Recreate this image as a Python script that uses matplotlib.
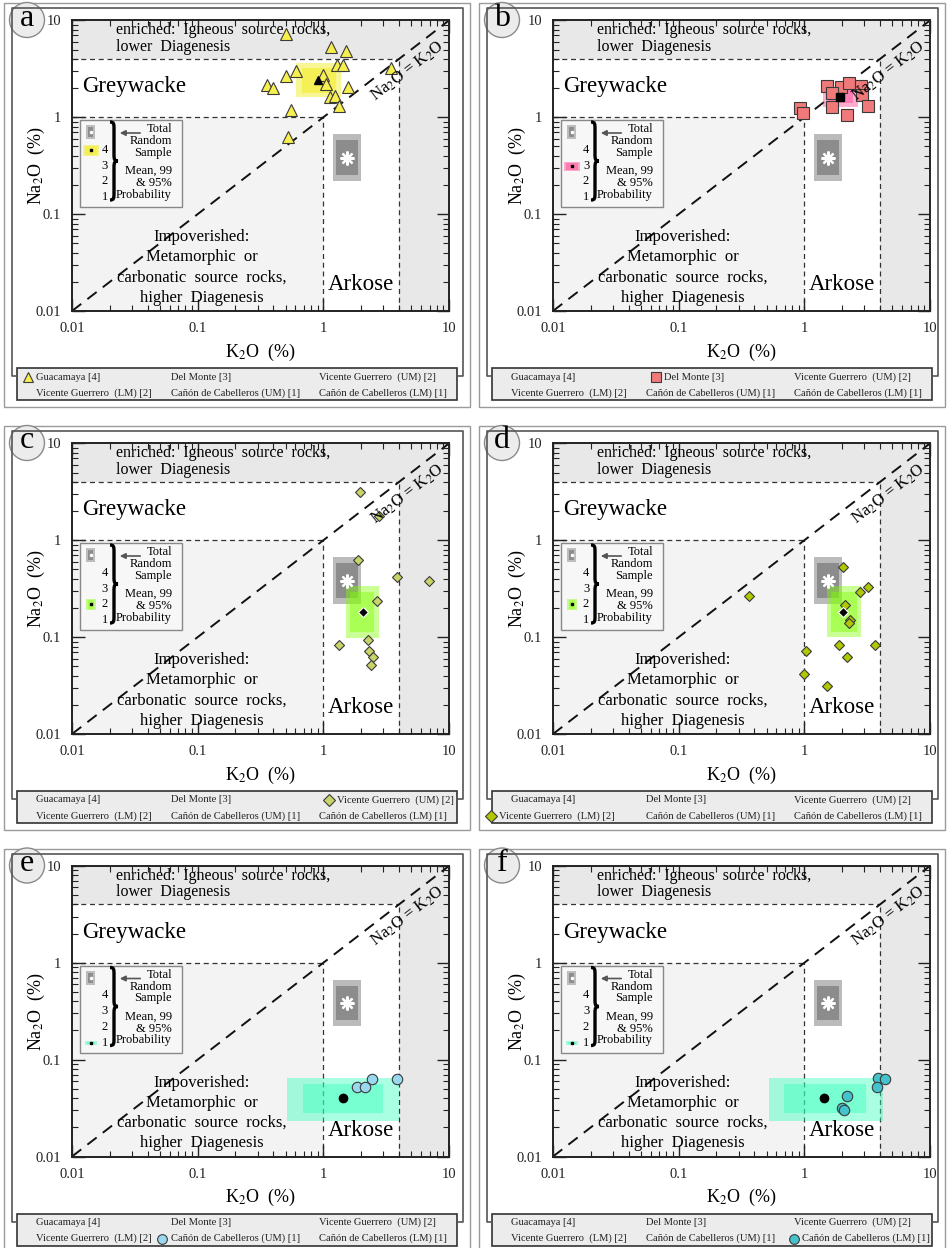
import matplotlib
matplotlib.use("Agg")
import matplotlib.pyplot as plt
from matplotlib.patches import Rectangle, Circle, PathPatch
from matplotlib.path import Path
from matplotlib.ticker import NullFormatter

plt.rcParams["font.family"] = ["Liberation Serif", "DejaVu Serif"]
plt.rcParams["mathtext.fontset"] = "stix"

W, H = 951, 1248

# ---- data: K2O (%) and Na2O (%) per formation ----
gua_k = [0.50, 1.15, 1.51, 1.29, 1.43, 3.44, 0.61, 0.50, 1.00, 1.05, 0.355, 0.40,
         1.58, 1.13, 1.24, 1.33, 0.55, 0.52]
gua_na = [7.2, 5.35, 4.87, 3.47, 3.47, 3.25, 3.03, 2.67, 2.73, 2.21, 2.15, 1.99,
          2.07, 1.63, 1.66, 1.31, 1.19, 0.62]
gua_mean = (0.91, 2.43)
gua_box99 = (0.61, 1.38, 1.61, 3.60)
gua_box95 = (0.68, 1.25, 1.79, 3.25)

dm_k = [0.92, 0.97, 1.51, 1.96, 2.28, 2.83, 2.90, 3.23, 2.17, 1.65, 1.65]
dm_na = [1.26, 1.11, 2.10, 2.07, 2.24, 2.10, 1.70, 1.31, 1.06, 1.29, 1.77]
dm_mean = (1.92, 1.63)
dm_box99 = (1.41, 2.69, 1.29, 2.07)
dm_box95 = (1.55, 2.45, 1.39, 1.95)

vgu_k = [1.96, 2.79, 1.90, 3.84, 6.97, 2.69, 1.33, 2.25, 2.32, 2.47, 2.40]
vgu_na = [3.18, 1.78, 0.63, 0.42, 0.38, 0.238, 0.083, 0.094, 0.072, 0.062, 0.052]
vgu_mean = (2.06, 0.183)
vgu_box99 = (1.52, 2.76, 0.099, 0.34)
vgu_box95 = (1.63, 2.53, 0.114, 0.29)

vgl_k = [0.36, 2.04, 3.19, 2.77, 2.11, 2.31, 2.25, 1.90, 3.65, 2.20, 1.03, 1.00, 1.51]
vgl_na = [0.266, 0.53, 0.33, 0.29, 0.215, 0.15, 0.14, 0.083, 0.083, 0.062, 0.072,
          0.042, 0.031]
vgl_mean = (2.04, 0.183)
vgl_box99 = (1.52, 2.83, 0.100, 0.337)
vgl_box95 = (1.62, 2.61, 0.114, 0.295)

ccu_k = [2.43, 3.88, 1.84, 2.15]
ccu_na = [0.063, 0.063, 0.052, 0.052]
ccu_mean = (1.44, 0.040)
ccu_box99 = (0.51, 4.03, 0.0233, 0.065)
ccu_box95 = (0.686, 3.00, 0.028, 0.056)

ccl_k = [3.88, 4.38, 3.81, 2.17, 1.98, 2.05]
ccl_na = [0.065, 0.063, 0.052, 0.042, 0.032, 0.030]
ccl_mean = (1.44, 0.040)
ccl_box99 = (0.52, 4.20, 0.0233, 0.065)
ccl_box95 = (0.69, 3.10, 0.028, 0.056)

# total random sample (grey box, same in every panel)
tot_mean = (1.55, 0.38)
tot_box99 = (1.19, 2.00, 0.22, 0.67)
tot_box95 = (1.26, 1.89, 0.255, 0.58)

legend_names = ["Guacamaya [4]", "Del Monte [3]", "Vicente Guerrero  (UM) [2]",
                "Vicente Guerrero  (LM) [2]", "Cañón de Cabelleros (UM) [1]",
                "Cañón de Cabelleros (LM) [1]"]

# letter, data, marker, face, size, box colour, legend number, mini box (w,h),
# legend marker/text x
panels = [
    ("a", gua_k, gua_na, gua_mean, gua_box99, gua_box95, "^", "#f7ef4f", 8.5,
     "#f0ea00", 4, (16, 11), (28, 36)),
    ("b", dm_k, dm_na, dm_mean, dm_box99, dm_box95, "s", "#f07a7a", 8.5,
     "#ff3f8f", 3, (16, 9), (181, 189)),
    ("c", vgu_k, vgu_na, vgu_mean, vgu_box99, vgu_box95, "D", "#c8d468", 5.5,
     "#80ff00", 2, (10, 11), (329, 337)),
    ("d", vgl_k, vgl_na, vgl_mean, vgl_box99, vgl_box95, "D", "#b0c800", 5.5,
     "#80ff00", 2, (10, 11), (16, 24)),
    ("e", ccu_k, ccu_na, ccu_mean, ccu_box99, ccu_box95, "o", "#9ad8f0", 7.5,
     "#33ffbb", 1, (12, 4), (162, 171)),
    ("f", ccl_k, ccl_na, ccl_mean, ccl_box99, ccl_box95, "o", "#45c3cc", 7.5,
     "#33ffbb", 1, (12, 4), (319, 327)),
]

fig = plt.figure(figsize=(W / 100, H / 100), dpi=100)
ov = fig.add_axes([0, 0, 1, 1], zorder=10)
ov.set_xlim(0, W); ov.set_ylim(H, 0); ov.axis("off")
ov.patch.set_visible(False)


def px_axes(x, y, w, h):
    return fig.add_axes([x / W, 1 - (y + h) / H, w / W, h / H])


def add_box(ax, box, color, alpha, z):
    x0, x1, y0, y1 = box
    ax.add_patch(Rectangle((x0, y0), x1 - x0, y1 - y0, fc=color, alpha=alpha,
                           lw=0, zorder=z))


def brace(x0, x1, yt, yb):
    ym = (yt + yb) / 2
    xm = (x0 + x1) / 2
    v = [(x0, yt), (xm, yt), (xm, yt + 2), (xm, yt + 7), (xm, ym - 6),
         (xm, ym - 1), (xm + 1, ym), (x1, ym),
         (xm + 1, ym), (xm, ym + 1), (xm, ym + 6), (xm, yb - 7),
         (xm, yb - 2), (xm, yb), (x0, yb)]
    c = [Path.MOVETO, Path.CURVE4, Path.CURVE4, Path.CURVE4, Path.LINETO,
         Path.CURVE4, Path.CURVE4, Path.CURVE4,
         Path.CURVE4, Path.CURVE4, Path.CURVE4, Path.LINETO,
         Path.CURVE4, Path.CURVE4, Path.CURVE4]
    ov.add_patch(PathPatch(Path(v, c), fc="none", ec="black", lw=2.4, zorder=3))


row_dy = [0, 423, 845.5]
num_y = {4: 150, 3: 166, 2: 181, 1: 197}

for i, (letter, kx, ny, mean, b99, b95, mk, face, ms, bcol, num, mini, legx) in enumerate(panels):
    col, row = i % 2, i // 2
    adx = 481 * col
    fdx = 475 * col
    dy = row_dy[row]

    # ---- main log-log plot ----
    ax = px_axes(72 + adx, 20.4 + dy, 377, 290.6)
    ax.set_xscale("log"); ax.set_yscale("log")
    ax.set_xlim(0.01, 10); ax.set_ylim(0.01, 10)
    ax.set_facecolor("#e8e8e8")
    ax.fill([0.01, 0.01, 4, 4, 1, 1], [1, 4, 4, 0.01, 0.01, 1], color="white",
            lw=0, zorder=0)
    ax.add_patch(Rectangle((0.01, 0.01), 0.99, 0.99, fc="#f3f3f3", lw=0, zorder=0))
    kw = dict(color="#333333", lw=0.9, ls=(0, (4, 3)), zorder=1)
    ax.plot([0.01, 4], [4, 4], **kw); ax.plot([4, 4], [0.01, 4], **kw)
    ax.plot([0.01, 1], [1, 1], **kw); ax.plot([1, 1], [0.01, 1], **kw)
    ax.plot([0.01, 10], [0.01, 10], color="#111111", lw=1.4, ls=(0, (6, 4)), zorder=1)

    add_box(ax, tot_box99, "#9e9e9e", 0.7, 2)
    add_box(ax, tot_box95, "#6e6e6e", 0.6, 2)
    ax.plot(*tot_mean, marker=(8, 2, 0), color="white", ms=10, mew=1.6, zorder=3)

    add_box(ax, b99, bcol, 0.42, 2.5)
    add_box(ax, b95, bcol, 0.42, 2.5)
    ax.plot(kx, ny, ls="none", marker=mk, ms=ms, mfc=face, mec="#3a3a3a",
            mew=0.8, zorder=3)
    if mk == "D":
        ax.plot(*mean, marker="D", ms=5, mfc="black", mec="white", mew=0.8, zorder=4)
    else:
        ax.plot(*mean, marker=mk, ms=6, mfc="black", mec="black", zorder=4)

    ax.tick_params(which="both", direction="in", top=True, right=True,
                   labelsize=10.5, colors="#222222")
    ax.tick_params(which="major", length=9, width=1, pad=8)
    ax.tick_params(which="minor", length=4.5, width=0.8)
    ticks = [0.01, 0.1, 1, 10]
    labs = ["0.01", "0.1", "1", "10"]
    ax.set_xticks(ticks, labs); ax.set_yticks(ticks, labs)
    ax.xaxis.set_minor_formatter(NullFormatter())
    ax.yaxis.set_minor_formatter(NullFormatter())
    for s in ax.spines.values():
        s.set_linewidth(1.4); s.set_color("#222222")

    ax.text(0.5, -0.141, "K$_2$O  (%)", transform=ax.transAxes, ha="center",
            va="center", fontsize=13)
    ax.text(-0.095, 0.5, "Na$_2$O  (%)", transform=ax.transAxes, ha="center",
            va="center", rotation=90, fontsize=13)
    ax.text(0.117, 0.938, "enriched:  Igneous  source  rocks,\nlower  Diagenesis",
            transform=ax.transAxes, ha="left", va="center", fontsize=11.5,
            linespacing=1.05, zorder=5)
    ax.text(0.027, 0.772, "Greywacke", transform=ax.transAxes, ha="left",
            va="center", fontsize=16.5, zorder=5)
    ax.text(0.345, 0.15, "Impoverished:\nMetamorphic  or\ncarbonatic  source  rocks,\nhigher  Diagenesis",
            transform=ax.transAxes, ha="center", va="center", fontsize=12,
            linespacing=1.35, zorder=5)
    ax.text(0.679, 0.09, "Arkose", transform=ax.transAxes, ha="left",
            va="center", fontsize=16.5, zorder=5)
    ax.text(0.889, 0.826, "Na$_2$O = K$_2$O", transform=ax.transAxes,
            ha="center", va="center", rotation=37.6, rotation_mode="anchor",
            fontsize=12, zorder=5)

    # ---- frames, letter circle, bottom legend ----
    ov.add_patch(Rectangle((4 + fdx, 3 + dy), 466, 404, fc="none",
                           ec="#9a9a9a", lw=1.0))
    ov.plot(
        [17 + fdx, 12 + fdx, 12 + fdx, 463 + fdx, 463 + fdx, 457 + fdx],
        [376 + dy, 376 + dy, 8 + dy, 8 + dy, 376 + dy, 376 + dy],
        color="#555555", lw=1.2)
    ov.add_patch(Rectangle((17 + fdx, 368 + dy), 440, 32, fc="#ececec",
                           ec="#333333", lw=1.2))
    ov.add_patch(Circle((27 + fdx, 20 + dy), 17.5, fc="#ececec", ec="#8a8a8a", lw=1))
    ov.text(27 + fdx, 18 + dy, letter, ha="center", va="center", fontsize=23)

    text_x = [36, 171, 319, 36, 171, 319]
    for j, name in enumerate(legend_names):
        yy = (377 if j < 3 else 393) + dy
        tx = text_x[j]
        if j == i:
            ov.plot(legx[0] + fdx, yy, marker=mk, ms=7 if mk != "D" else 6,
                    mfc=face, mec="#3a3a3a", mew=0.8)
            tx = legx[1]
        ov.text(tx + fdx, yy, name, ha="left", va="center", fontsize=7.6,
                color="#222222")

    # ---- inset key ----
    ov.add_patch(Rectangle((80 + adx, 120 + dy), 102, 87, fc="#f7f7f7",
                           ec="#888888", lw=1.0, zorder=1))
    ov.add_patch(Rectangle((86 + adx, 125 + dy), 9, 14, fc="#bdbdbd", lw=0, zorder=2))
    ov.add_patch(Rectangle((88 + adx, 127 + dy), 5, 10, fc="#8e8e8e", lw=0, zorder=2))
    ov.plot(90.5 + adx, 132 + dy, marker="o", ms=1.5, color="white", zorder=3)
    mw, mh = mini
    cy = num_y[num] + dy
    add_x = 90.5 + adx
    ov.add_patch(Rectangle((add_x - mw / 2, cy - mh / 2), mw, mh, fc=bcol,
                           alpha=0.42, lw=0, zorder=2))
    ov.add_patch(Rectangle((add_x - mw / 2 + 2, cy - mh / 2 + 1), mw - 4,
                           max(mh - 2, 1), fc=bcol, alpha=0.42, lw=0, zorder=2))
    ov.plot(add_x, cy, marker="s", ms=1.5, color="black", zorder=3)
    for n, yv in num_y.items():
        ov.text(105 + adx, yv + dy, str(n), ha="center", va="center",
                fontsize=9, zorder=3)
    brace(110 + adx, 118 + adx, 122 + dy, 200 + dy)
    ov.annotate("", xy=(117 + adx, 133 + dy), xytext=(143 + adx, 133 + dy),
                arrowprops=dict(arrowstyle="-|>", color="#555555", lw=1.2,
                                mutation_scale=8), zorder=3)
    ov.text(172 + adx, 141 + dy, "Total\nRandom\nSample", ha="right",
            va="center", fontsize=9, linespacing=1.0, zorder=3)
    ov.text(172 + adx, 183 + dy, "Mean, 99\n& 95%\nProbability", ha="right",
            va="center", fontsize=9, linespacing=1.0, zorder=3)

fig.savefig("out.png", dpi=100)
